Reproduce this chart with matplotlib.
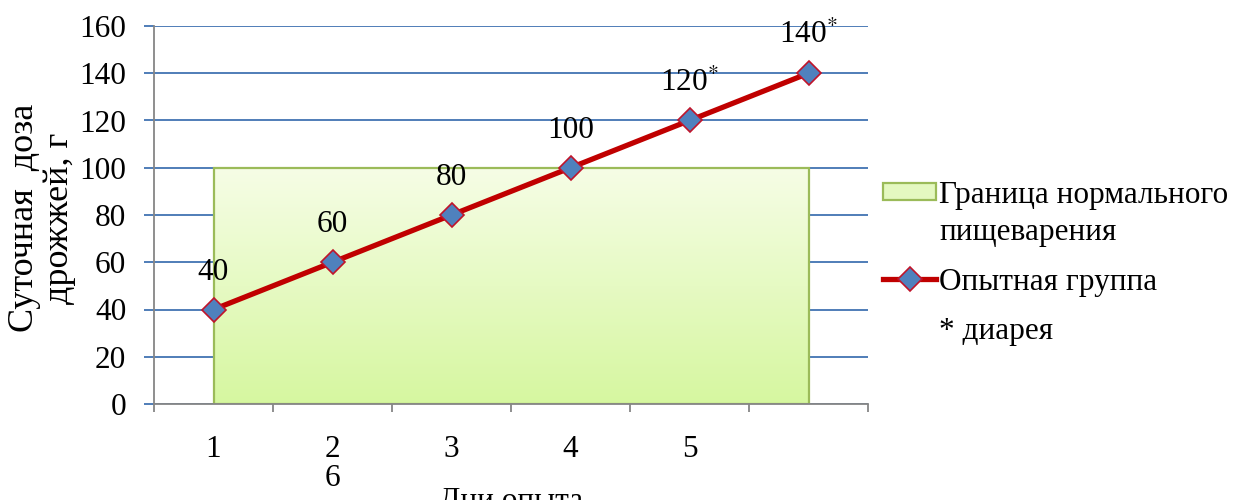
import matplotlib
matplotlib.use('Agg')
import matplotlib.pyplot as plt
import numpy as np
from matplotlib.patches import Patch, Rectangle
from matplotlib.lines import Line2D

plt.rcParams['font.family'] = ['Liberation Serif', 'DejaVu Serif']
plt.rcParams['mathtext.fontset'] = 'stix'

# data
days = [1, 2, 3, 4, 5, 6]
dose = [40, 60, 80, 100, 120, 140]
point_labels = ['40', '60', '80', '100', '120$^{*}$', '140$^{*}$']
norm_limit = 100
tick_pos = [1, 2, 3, 4, 5]
tick_labels = ['1', '2\n6', '3', '4', '5']

fs = 22.5
fig = plt.figure(figsize=(12.38, 5), dpi=100)
ax = fig.add_axes([154/1238, 1-404/500, 714/1238, 378/500])

grid_col = '#4f7db8'
ax.set_xlim(0.5, 6.5)
ax.set_ylim(0, 160)
ax.set_yticks(np.arange(0, 161, 20))
ax.yaxis.grid(True, color=grid_col, lw=1.4, zorder=0)
ax.set_axisbelow(True)
ax.tick_params(axis='y', colors=grid_col, length=7, width=1.4, labelsize=fs, pad=13)
for lab in ax.get_yticklabels():
    lab.set_color('black')

# x axis: ticks between categories, labels under categories
ax.set_xticks(np.arange(0.5, 6.6, 1))
ax.set_xticklabels([])
ax.tick_params(axis='x', which='major', colors='#868686', length=6, width=1.3)
ax.set_xticks(tick_pos, minor=True)
ax.set_xticklabels(tick_labels, minor=True, fontsize=fs, linespacing=1.02)
ax.tick_params(axis='x', which='minor', length=0, pad=22, labelcolor='black')

for s in ['top', 'right']:
    ax.spines[s].set_visible(False)
for s in ['left', 'bottom']:
    ax.spines[s].set_color('#868686')
    ax.spines[s].set_linewidth(1.3)
ax.spines['left'].set_zorder(5)

# normal digestion zone with vertical gradient
grad = np.linspace(0, 1, 256).reshape(-1, 1)
cmap = matplotlib.colors.LinearSegmentedColormap.from_list('g', ['#d6f7a0', '#f6fde6'])
ax.imshow(grad, extent=(days[0], days[-1], 0, norm_limit), origin='lower',
          aspect='auto', cmap=cmap, zorder=1)
ax.add_patch(Rectangle((days[0], 0), days[-1]-days[0], norm_limit, fill=False,
                       ec='#9bbb59', lw=1.6, zorder=2))
ax.set_xlim(0.5, 6.5)
ax.set_ylim(0, 160)

ax.plot(days, dose, color='#c00000', lw=3.8, marker='D', ms=12,
        mfc='#4f81bd', mec='#c0142a', mew=1.2, zorder=4, clip_on=False)
for x, y, t in zip(days, dose, point_labels):
    ax.annotate(t, (x, y), xytext=(0, 27), textcoords='offset points',
                ha='center', va='center', fontsize=fs)

# legend, in two blocks
h1 = [Patch(facecolor='#e4f8c0', edgecolor='#9bbb59', lw=1.6),
      Line2D([], [], color='none')]
fig.legend(h1, ['Граница нормального', 'пищеварения'], loc='upper left',
           bbox_to_anchor=(883/1238, 1-181/500), frameon=False, fontsize=fs,
           handlelength=1.7, handleheight=0.45, handletextpad=0.1,
           labelspacing=0.25, borderpad=0, borderaxespad=0)
h2 = [Line2D([], [], color='#c00000', lw=3.8, marker='D', ms=12,
             mfc='#4f81bd', mec='#c0142a', mew=1.2),
      Line2D([], [], color='none')]
fig.legend(h2, ['Опытная группа', '* диарея'], loc='upper left',
           bbox_to_anchor=(883/1238, 1-268/500), frameon=False, fontsize=fs,
           handlelength=1.7, handletextpad=0.1,
           labelspacing=0.65, borderpad=0, borderaxespad=0)

fig.text(42/1238, 1-218/500, 'Суточная  доза\nдрожжей, г', rotation=90,
         ha='center', va='center', fontsize=26, linespacing=1.1)
fig.text(511/1238, 1-487/500, 'Дни опыта', ha='center', va='top', fontsize=fs)

fig.savefig('out.png', dpi=100)
